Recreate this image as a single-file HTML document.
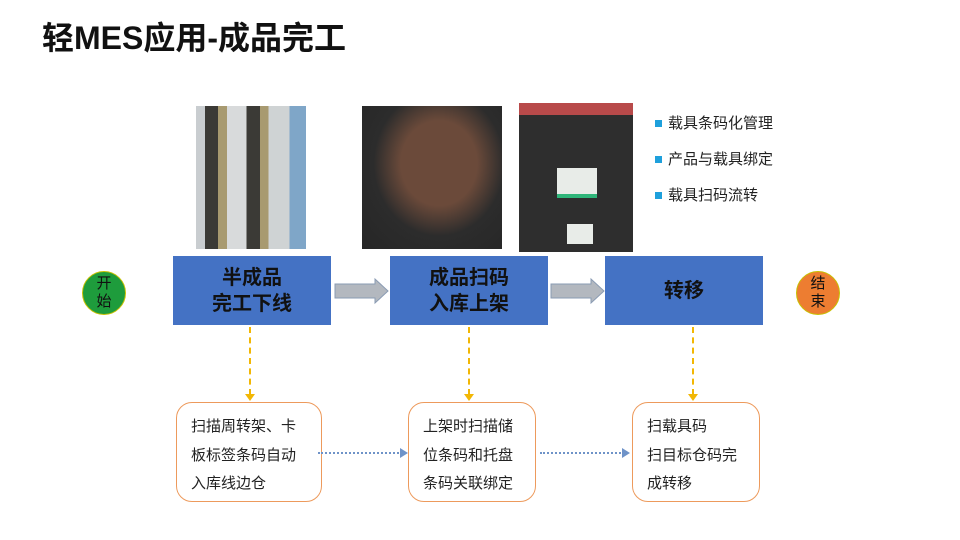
<!DOCTYPE html>
<html><head><meta charset="utf-8"><style>
*{margin:0;padding:0;box-sizing:border-box}
body{width:960px;height:540px;background:#fff;position:relative;overflow:hidden;font-family:"Liberation Sans","Noto Sans CJK SC",sans-serif}
.a{position:absolute}
.title{left:42px;top:17px;font-size:32px;font-weight:bold;color:#111;line-height:42px}
.blue{background:#4472c4;color:#111;font-weight:bold;font-size:20px;line-height:26px;display:flex;align-items:center;justify-content:center;text-align:center;top:256px;height:69px;width:158px}
.circ{width:44px;height:44px;border-radius:50%;font-size:15px;line-height:18px;display:flex;align-items:center;justify-content:center;text-align:center;color:#111;top:271px}
.box{border:1.3px solid #ed9a5c;border-radius:16px;top:402px;height:100px;font-size:15px;line-height:28.5px;color:#222;padding:10px 0 0 14px}
.bul{left:655px;font-size:15px;color:#222;line-height:20px}
.bul:before{content:"";display:inline-block;width:7px;height:7px;background:#1ea0dc;margin-right:6px;vertical-align:1px}
.dash{width:0;border-left:2px dashed #f2b705;top:327px;height:68px}
.tri{width:0;height:0;border-left:5px solid transparent;border-right:5px solid transparent;border-top:7px solid #f2b705;top:394px}
.dot{height:0;border-top:2px dotted #6f93c8;top:452px}
.tr2{width:0;height:0;border-top:5px solid transparent;border-bottom:5px solid transparent;border-left:8px solid #6f93c8;top:448px}
</style></head><body>
<div class="a title">轻MES应用-成品完工</div>

<div class="a" style="left:196px;top:106px;width:110px;height:143px;background:linear-gradient(90deg,#c9cdd0 0 8%,#3b3a36 8% 20%,#a89a70 20% 28%,#d8dadb 28% 46%,#3b3a36 46% 58%,#a89a70 58% 66%,#cfd3d4 66% 85%,#7fa6c8 85%)"></div>
<div class="a" style="left:362px;top:106px;width:140px;height:143px;background:radial-gradient(ellipse at 55% 40%,#6b4a3a 0 35%,#2c2c2c 60%,#262626 100%)"></div>
<div class="a" style="left:519px;top:103px;width:114px;height:149px;background:linear-gradient(180deg,#b84a4a 0 8%,#2e2e2e 8% 100%)"></div>
<div class="a" style="left:557px;top:168px;width:40px;height:30px;background:#e8ece8;border-bottom:4px solid #2fb67a"></div>
<div class="a" style="left:567px;top:224px;width:26px;height:20px;background:#e8ece8"></div>

<div class="a bul" style="top:114px">载具条码化管理</div>
<div class="a bul" style="top:150px">产品与载具绑定</div>
<div class="a bul" style="top:186px">载具扫码流转</div>

<div class="a circ" style="left:82px;background:#1e9c3c;border:1.5px solid #c8c000">开<br>始</div>
<div class="a circ" style="left:796px;background:#ed7d31;border:1.5px solid #c8c000">结<br>束</div>

<div class="a blue" style="left:173px">半成品<br>完工下线</div>
<div class="a blue" style="left:390px">成品扫码<br>入库上架</div>
<div class="a blue" style="left:605px">转移</div>

<svg class="a" style="left:0;top:0" width="960" height="540">
<polygon points="335,284 375,284 375,279 388,291 375,303 375,298 335,298" fill="#b3b8bf" stroke="#8a9bb3" stroke-width="1"/>
<polygon points="551,284 591,284 591,279 604,291 591,303 591,298 551,298" fill="#b3b8bf" stroke="#8a9bb3" stroke-width="1"/>
</svg>

<div class="a dash" style="left:249px"></div><div class="a tri" style="left:245px"></div>
<div class="a dash" style="left:468px"></div><div class="a tri" style="left:464px"></div>
<div class="a dash" style="left:692px"></div><div class="a tri" style="left:688px"></div>

<div class="a box" style="left:176px;width:146px">扫描周转架、卡<br>板标签条码自动<br>入库线边仓</div>
<div class="a box" style="left:408px;width:128px">上架时扫描储<br>位条码和托盘<br>条码关联绑定</div>
<div class="a box" style="left:632px;width:128px">扫载具码<br>扫目标仓码完<br>成转移</div>

<div class="a dot" style="left:318px;width:84px"></div><div class="a tr2" style="left:400px"></div>
<div class="a dot" style="left:540px;width:84px"></div><div class="a tr2" style="left:622px"></div>
</body></html>
